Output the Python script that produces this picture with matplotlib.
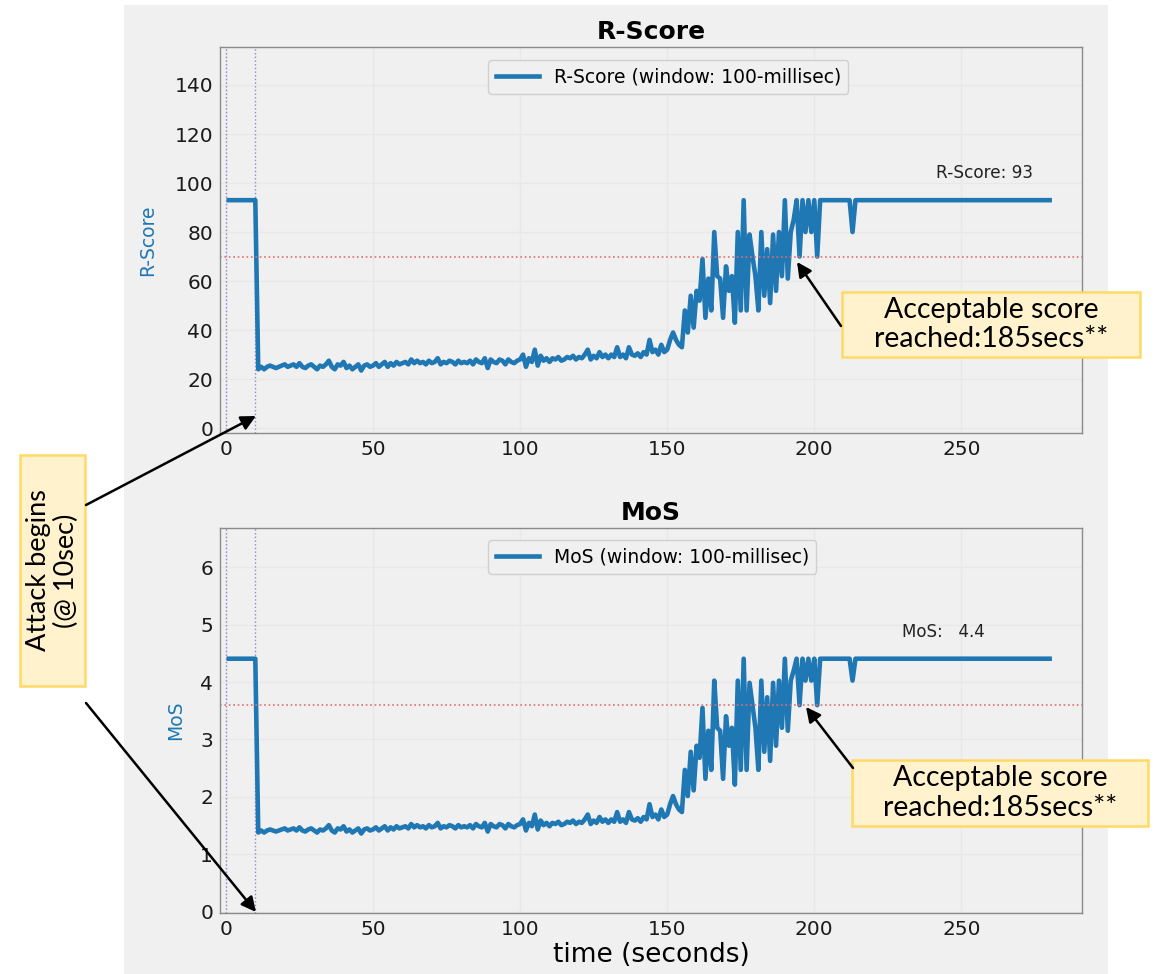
import matplotlib
matplotlib.use("Agg")
import matplotlib.pyplot as plt
from matplotlib.patches import Rectangle
import numpy as np

plt.rcParams["font.family"] = ["DejaVu Sans"]

# ---------------- data ----------------
TIME = list(range(1, 281))
R_SCORE = (
    [93.0] * 10
    + [24, 25, 24, 25, 25.5, 25, 24.5, 25, 25.5, 26]
    + [25, 25.5, 26, 25, 26.5, 25, 24.5, 25.5, 26, 25]
    + [24, 25.5, 25, 26, 27.5, 25, 24, 26, 25.5, 27]
    + [24.5, 25.5, 24, 25, 26, 23.5, 25.5, 26, 25, 25.5]
    + [26.5, 25, 26, 27, 25, 26.5, 25.5, 27, 26, 26.5]
    + [27, 26, 28, 26.5, 27.5, 26.5, 27, 26, 27.5, 26.5]
    + [27, 28.5, 26, 27, 26.5, 27.5, 27, 26, 27.5, 26.5]
    + [27, 26.5, 27.5, 26, 28, 27, 26.5, 28.5, 24.5, 28]
    + [27, 26.5, 28, 27.5, 26, 28, 27, 26.5, 27.5, 28]
    + [30, 25, 28.5, 27, 32, 25.5, 29.5, 27.5, 28.5, 27]
    + [28.5, 28, 29, 27.5, 28, 29, 28.5, 29.5, 28, 29]
    + [28.5, 30, 32, 28, 29.5, 28.5, 31, 29, 30, 28.5]
    + [30, 29, 33, 29, 30, 28.5, 33, 30, 29.5, 30.5]
    + [29, 31, 30, 36, 31, 32, 30, 34, 31, 32]
    + [36, 39, 36, 34, 33, 48, 39, 54, 41, 56]
    + [52, 69, 45, 61, 48, 80, 62, 61, 45, 66]
    + [56, 62, 43, 80, 48, 93, 48, 79, 70, 62]
    + [48, 80, 54, 73, 51, 79, 56, 80, 62, 93]
    + [61, 80, 85, 93, 70, 93, 80, 93, 80, 93]
    + [70] + [93.0] * 11 + [80]
    + [93.0] * 67
)
R_THRESHOLD = 70
ATTACK_LINES = [0, 10]
X_TICKS = [0, 50, 100, 150, 200, 250]
R_TICKS = [0, 20, 40, 60, 80, 100, 120, 140]
MOS_TICKS = [0, 1, 2, 3, 4, 5, 6]


def r_to_mos(r):
    r = np.asarray(r, dtype=float)
    return 1 + 0.035 * r + 7e-6 * r * (r - 60) * (100 - r)


MOS = r_to_mos(R_SCORE)
MOS_THRESHOLD = float(r_to_mos(R_THRESHOLD))

# ---------------- figure ----------------
W, H = 1155, 974
fig = plt.figure(figsize=(W / 100, H / 100), dpi=100, facecolor="white")


def fx(x):
    return x / W


def fy(y):
    return 1 - y / H


# gray panel background
fig.patches.append(Rectangle((fx(124), 0), fx(1108) - fx(124), fy(5), transform=fig.transFigure,
                             facecolor="#f0f0f0", edgecolor="none", zorder=-5))

BG = "#f0f0f0"
LINE = "#1f77b4"
ax1 = fig.add_axes([fx(220), fy(433), fx(1082) - fx(220), fy(47) - fy(433)])
ax2 = fig.add_axes([fx(220), fy(913), fx(1082) - fx(220), fy(528) - fy(913)])


def style(ax):
    ax.set_facecolor(BG)
    for s in ax.spines.values():
        s.set_color("#8a8a8a")
        s.set_linewidth(1.0)
    ax.grid(True, color="#e8e8e8", linewidth=1.0)
    ax.set_axisbelow(True)
    ax.tick_params(length=0, labelsize=14.5, colors="#1a1a1a", pad=5)
    ax.set_xticks(X_TICKS)
    ax.set_xlim(-2, 291)
    for xv in ATTACK_LINES:
        ax.axvline(xv, color="#9a7fd6", linestyle=":", linewidth=1.0)


LEG = dict(loc="upper left", fontsize=13.5, handlelength=2.3, borderaxespad=0,
           facecolor=BG, edgecolor="#d0d0d0", framealpha=1)

style(ax1)
ax1.plot(TIME, R_SCORE, color=LINE, linewidth=3.3, label="R-Score (window: 100-millisec)")
ax1.axhline(R_THRESHOLD, color="#e07070", linestyle=":", linewidth=1.2)
ax1.set_ylim(-2, 155.5)
ax1.set_yticks(R_TICKS)
ax1.set_title("R-Score", fontsize=18, fontweight="bold", pad=6)
ax1.set_ylabel("R-Score", color=LINE, fontsize=13.5)
ax1.yaxis.set_label_coords(-0.073, 0.5)
ax1.text(258, 104, "R-Score: 93", fontsize=12.2, ha="center", va="center", color="#222222")
ax1.legend(bbox_to_anchor=(0.311, 0.966), **LEG)

style(ax2)
ax2.plot(TIME, MOS, color=LINE, linewidth=3.3, label="MoS (window: 100-millisec)")
ax2.axhline(MOS_THRESHOLD, color="#e07070", linestyle=":", linewidth=1.2)
ax2.set_ylim(-0.02, 6.68)
ax2.set_yticks(MOS_TICKS)
ax2.set_title("MoS", fontsize=18, fontweight="bold", pad=6)
ax2.set_ylabel("MoS", color=LINE, fontsize=13.5)
ax2.yaxis.set_label_coords(-0.041, 0.5)
ax2.set_xlabel("time (seconds)", fontsize=19, labelpad=2)
ax2.text(244, 4.87, "MoS:   4.4", fontsize=12, ha="center", va="center", color="#222222")
ax2.legend(bbox_to_anchor=(0.311, 0.969), **LEG)

# ---------------- callout boxes ----------------
BOX_FC = "#fff2cc"
BOX_EC = "#ffd966"
BOX_FONT = ["Lato", "DejaVu Sans"]


def callout(x0, y0, x1, y1, text, rotation=0, fs=20.5):
    fig.patches.append(Rectangle((fx(x0), fy(y1)), fx(x1) - fx(x0), fy(y0) - fy(y1),
                                 transform=fig.transFigure, facecolor=BOX_FC, edgecolor=BOX_EC,
                                 linewidth=1.8, zorder=5))
    fig.text(fx((x0 + x1) / 2), fy((y0 + y1) / 2), text, ha="center", va="center",
             rotation=rotation, fontsize=fs, family=BOX_FONT, color="black",
             linespacing=1.15, zorder=6)


def arrow(x0, y0, x1, y1):
    fig.add_artist(matplotlib.patches.FancyArrowPatch(
        (fx(x0), fy(y0)), (fx(x1), fy(y1)), transform=fig.transFigure,
        arrowstyle="-|>", mutation_scale=22, linewidth=1.8, color="black", zorder=7,
        shrinkA=0, shrinkB=0))


callout(842, 292, 1140, 357, "Acceptable score\nreached:185secs**")
arrow(841, 326, 797, 262)
callout(852, 760, 1148, 826, "Acceptable score\nreached:185secs**")
arrow(853, 768, 806, 707)
callout(20, 455, 85, 686, "Attack begins\n(@ 10sec)", rotation=90, fs=19.5)
arrow(86, 505, 256, 416)
arrow(86, 703, 256, 912)

fig.savefig("out.png", dpi=100, facecolor="white")
